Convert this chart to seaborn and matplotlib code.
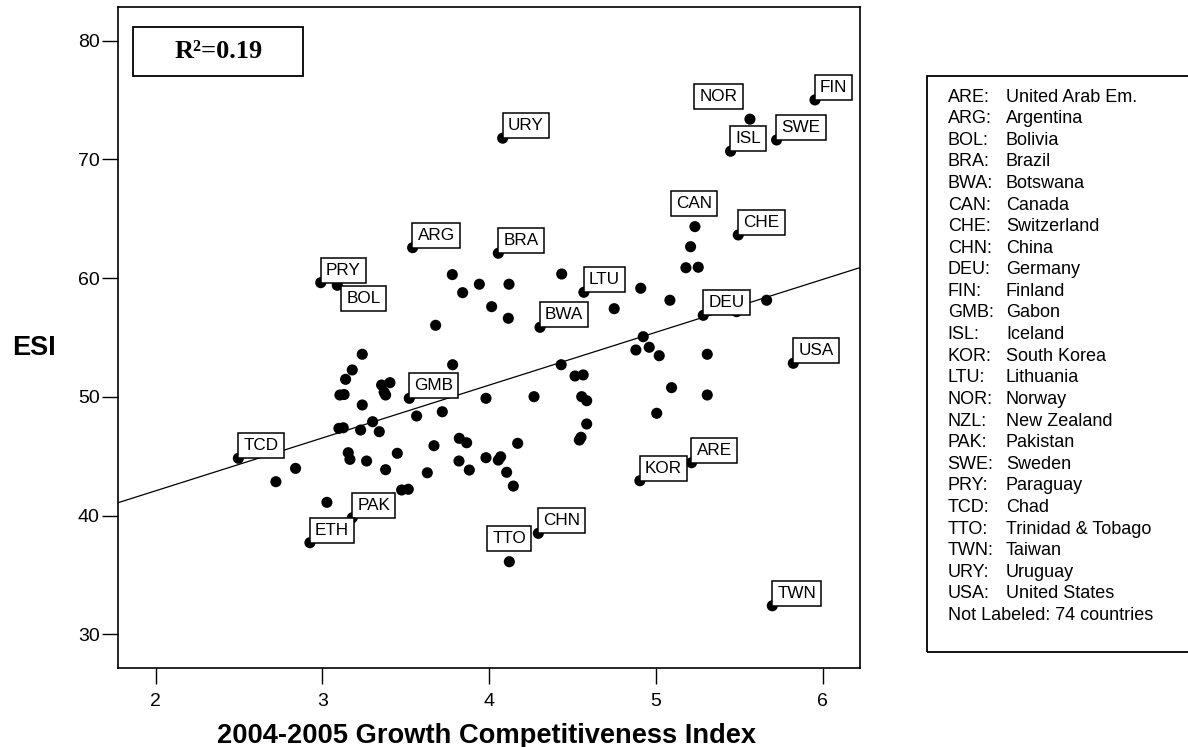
import matplotlib
matplotlib.use("Agg")
import matplotlib.pyplot as plt
from matplotlib.patches import Rectangle
import seaborn as sns
import pandas as pd

# ---------------- data ----------------
labeled_codes = ["URY", "ARG", "BRA", "PRY", "BOL", "LTU", "FIN", "NOR", "ISL", "SWE",
                 "CAN", "CHE", "BWA", "DEU", "USA", "GMB", "KOR", "ARE", "CHN", "TTO",
                 "TCD", "PAK", "ETH", "TWN"]
labeled_gci = [4.081, 3.541, 4.055, 2.990, 3.089, 4.568, 5.954, 5.564, 5.448, 5.724,
               5.234, 5.494, 4.305, 5.284, 5.824, 3.521, 4.904, 5.214, 4.295, 4.121,
               2.496, 3.179, 2.925, 5.698]
labeled_esi = [71.79, 62.57, 62.10, 59.62, 59.40, 58.81, 75.01, 73.39, 70.69, 71.64,
               64.34, 63.64, 55.86, 56.87, 52.83, 49.88, 42.94, 44.46, 38.51, 36.12,
               44.83, 39.82, 37.72, 32.41]

unlabeled_gci = [3.779, 3.941, 3.841, 4.119, 4.435, 5.208, 5.180, 5.254, 4.909, 4.015,
                 4.115, 3.679, 4.750, 5.084, 5.484, 5.664, 4.924, 4.880, 4.960, 5.020,
                 5.308, 4.432, 3.781, 4.515, 4.564, 3.405, 3.355, 3.379, 3.981, 4.269,
                 4.555, 4.585, 5.094, 5.308, 4.585, 5.005, 3.565, 3.719, 4.541, 4.551,
                 3.821, 3.865, 3.669, 4.171, 3.449, 3.379, 3.629, 3.819, 3.881, 3.981,
                 4.055, 4.069, 4.105, 4.145, 3.475, 3.515, 3.239, 3.179, 3.139, 3.105,
                 3.130, 3.239, 3.301, 3.099, 3.229, 3.341, 2.839, 2.721, 3.155, 3.165,
                 3.265, 3.027, 3.125, 3.370]
unlabeled_esi = [60.30, 59.49, 58.78, 59.49, 60.35, 62.65, 60.88, 60.92, 59.15, 57.60,
                 56.62, 56.03, 57.43, 58.14, 57.18, 58.14, 55.07, 53.95, 54.18, 53.47,
                 53.59, 52.71, 52.71, 51.76, 51.85, 51.20, 51.00, 50.16, 49.88, 50.02,
                 50.02, 49.68, 50.78, 50.16, 47.72, 48.62, 48.39, 48.75, 46.37, 46.60,
                 46.51, 46.14, 45.89, 46.09, 45.25, 43.87, 43.61, 44.60, 43.84, 44.88,
                 44.68, 44.96, 43.65, 42.49, 42.16, 42.22, 53.59, 52.27, 51.48, 50.16,
                 50.20, 49.32, 47.91, 47.35, 47.21, 47.07, 43.98, 42.86, 45.30, 44.74,
                 44.60, 41.12, 47.40, 50.40]

r_squared_text = "R²=0.19"
x_label = "2004-2005 Growth Competitiveness Index"
y_label = "ESI"
x_ticks = [2, 3, 4, 5, 6]
y_ticks = [30, 40, 50, 60, 70, 80]

key_codes = ["ARE", "ARG", "BOL", "BRA", "BWA", "CAN", "CHE", "CHN", "DEU", "FIN",
             "GMB", "ISL", "KOR", "LTU", "NOR", "NZL", "PAK", "SWE", "PRY", "TCD",
             "TTO", "TWN", "URY", "USA"]
key_names = ["United Arab Em.", "Argentina", "Bolivia", "Brazil", "Botswana", "Canada",
             "Switzerland", "China", "Germany", "Finland", "Gabon", "Iceland",
             "South Korea", "Lithuania", "Norway", "New Zealand", "Pakistan", "Sweden",
             "Paraguay", "Chad", "Trinidad & Tobago", "Taiwan", "Uruguay", "United States"]
key_footer = "Not Labeled: 74 countries"

# ---------------- figure ----------------
sns.set_theme(style="white")
plt.rcParams["font.family"] = ["Liberation Sans", "DejaVu Sans"]
plt.rcParams["text.color"] = "black"
plt.rcParams["axes.labelcolor"] = "black"
plt.rcParams["xtick.color"] = "black"
plt.rcParams["ytick.color"] = "black"

df = pd.DataFrame({
    "gci": labeled_gci + unlabeled_gci,
    "esi": labeled_esi + unlabeled_esi,
})

fig = plt.figure(figsize=(11.88, 7.47), dpi=100)
ax = fig.add_axes([0.0996, 0.1053, 0.6243, 0.8849])
ax.set_xlim(1.776, 6.224)
ax.set_ylim(27.14, 82.81)

sns.regplot(data=df, x="gci", y="esi", ax=ax, ci=None, truncate=False,
            scatter=False, line_kws=dict(color="black", lw=0.9))
sns.scatterplot(data=df, x="gci", y="esi", ax=ax, color="black", s=64,
                edgecolor="none", zorder=3)
ax.set_xlim(1.776, 6.224)
ax.set_ylim(27.14, 82.81)

ax.set_xticks(x_ticks)
ax.set_yticks(y_ticks)
ax.set_xlabel("")
ax.set_ylabel("")
ax.tick_params(axis="both", direction="out", length=11.5, width=1.0,
               labelsize=14, colors="black", labelcolor="black", left=True, bottom=True)
ax.tick_params(axis="x", pad=6)
ax.tick_params(axis="y", pad=2)
for sp in ax.spines.values():
    sp.set_visible(True)
    sp.set_color("black")
    sp.set_linewidth(1.2)

# labels on points
box = dict(boxstyle="square,pad=0.3", fc="white", ec="black", lw=1.1)
special = {
    "BOL": dict(xytext=(6.5, -4.0), ha="left", va="top"),
    "NOR": dict(xytext=(-8.9, 10.8), ha="right", va="bottom"),
    "TTO": dict(xytext=(0, 11.3), ha="center", va="bottom"),
    "CAN": dict(xytext=(-0.6, 11.5), ha="center", va="bottom"),
}
for code, gx, ey in zip(labeled_codes, labeled_gci, labeled_esi):
    kw = special.get(code, dict(xytext=(3.6, 3.6), ha="left", va="bottom"))
    ax.annotate(code, (gx, ey), textcoords="offset points", fontsize=12.3,
                color="black", bbox=box, zorder=4, **kw)

# R^2 box
ax.add_patch(Rectangle((0.0202, 0.8966), 0.2291, 0.0731, transform=ax.transAxes,
                       fill=False, ec="black", lw=1.3, zorder=5))
ax.text(0.1347, 0.9331, r_squared_text, transform=ax.transAxes, ha="center",
        va="center", fontsize=19, fontweight="bold", color="black",
        family=["Liberation Serif", "DejaVu Serif"], zorder=6)

# axis titles
fig.text(0.4094, 0.0147, x_label, ha="center", va="center", fontsize=19.6,
         fontweight="bold", color="black")
fig.text(0.029, 0.534, y_label, ha="center", va="center", fontsize=19.5,
         fontweight="bold", color="black")

# key box on the right
fig.patches.append(Rectangle((0.7800, 0.1272), 0.24, 0.7715, transform=fig.transFigure,
                             fill=False, ec="black", lw=1.3, clip_on=False))
base0 = 1 - 101.5 / 747
step = 21.6 / 747
for i, (c, n) in enumerate(zip(key_codes, key_names)):
    yy = base0 - i * step
    fig.text(0.7977, yy, c + ":", ha="left", va="baseline", fontsize=13, color="black")
    fig.text(0.8468, yy, n, ha="left", va="baseline", fontsize=13, color="black")
fig.text(0.7977, base0 - len(key_codes) * step, key_footer, ha="left",
         va="baseline", fontsize=13, color="black")

fig.savefig("out.png", dpi=100, facecolor="white")
